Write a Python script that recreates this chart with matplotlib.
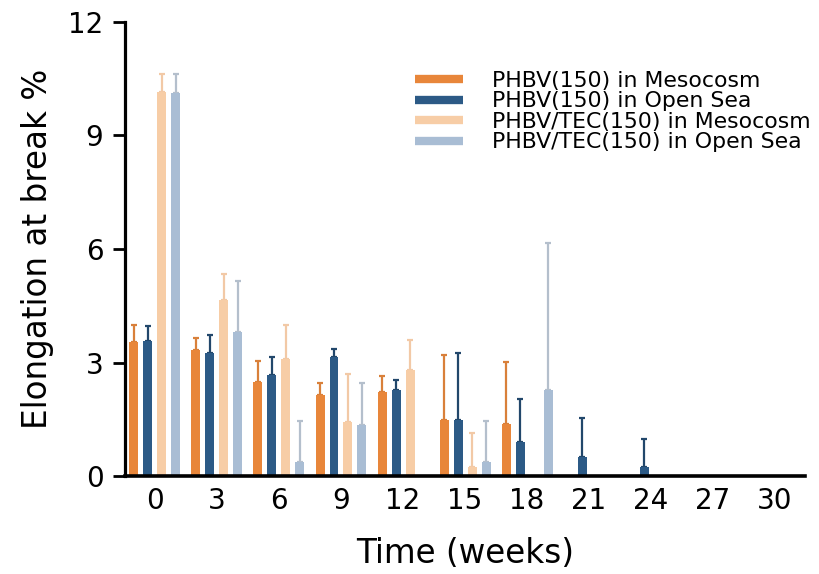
import numpy as np
import matplotlib.pyplot as plt
from matplotlib.lines import Line2D

plt.rcParams['font.family'] = ['DejaVu Sans']

weeks = [0, 3, 6, 9, 12, 15, 18, 21, 24, 27, 30]
nan = np.nan

# mean elongation at break (%) and upper SD for each sample / site
phbv_meso = [3.55, 3.33, 2.49, 2.14, 2.22, 1.48, 1.38, nan, nan, nan, nan]
phbv_meso_err = [0.45, 0.32, 0.55, 0.31, 0.43, 1.72, 1.64, nan, nan, nan, nan]
phbv_sea = [3.57, 3.25, 2.67, 3.15, 2.28, 1.48, 0.90, 0.50, 0.24, nan, nan]
phbv_sea_err = [0.40, 0.48, 0.48, 0.21, 0.26, 1.77, 1.14, 1.03, 0.74, nan, nan]
tec_meso = [10.16, 4.66, 3.09, 1.43, 2.80, 0.25, nan, nan, nan, nan, nan]
tec_meso_err = [0.47, 0.68, 0.90, 1.27, 0.80, 0.88, nan, nan, nan, nan, nan]
tec_sea = [10.13, 3.81, 0.38, 1.35, nan, 0.37, 2.28, nan, nan, nan, nan]
tec_sea_err = [0.50, 1.35, 1.08, 1.11, nan, 1.09, 3.88, nan, nan, nan, nan]

labels = ['PHBV(150) in Mesocosm', 'PHBV(150) in Open Sea',
          'PHBV/TEC(150) in Mesocosm', 'PHBV/TEC(150) in Open Sea']
colors = ['#e8863a', '#2c5a86', '#f7cda6', '#a9bdd4']
err_colors = ['#d9803a', '#22476b', '#f2c9a6', '#b4bfcc']

series = [(phbv_meso, phbv_meso_err), (phbv_sea, phbv_sea_err),
          (tec_meso, tec_meso_err), (tec_sea, tec_sea_err)]

fig = plt.figure(figsize=(8.19, 5.74), dpi=100)
ax = fig.add_axes([0.1526, 0.1707, 0.983 - 0.1526, 0.9617 - 0.1707])

step = 0.677
width = 0.435
x = np.array(weeks, dtype=float)
for i, ((vals, errs), c, ec) in enumerate(zip(series, colors, err_colors)):
    vals = np.array(vals)
    errs = np.array(errs)
    ok = ~np.isnan(vals)
    pos = x[ok] + (i - 1.5) * step
    ax.bar(pos, vals[ok], width=width, color=c, zorder=2)
    e = errs[ok]
    ax.errorbar(pos, vals[ok], yerr=[np.zeros_like(e), e], fmt='none',
                ecolor=ec, elinewidth=1.6, capsize=2.5, capthick=1.6, zorder=1)

ax.set_xlim(-1.45, 31.45)
ax.set_ylim(0, 12)
ax.set_yticks([0, 3, 6, 9, 12])
ax.set_xticks(weeks)
ax.spines['top'].set_visible(False)
ax.spines['right'].set_visible(False)
ax.spines['left'].set_linewidth(2.3)
ax.spines['bottom'].set_linewidth(2.6)
ax.tick_params(axis='y', length=8.5, width=2.0, labelsize=20, pad=7)
ax.tick_params(axis='x', length=0, labelsize=20, pad=8)
ax.set_xlabel('Time (weeks)', fontsize=23.5, labelpad=16)
ax.set_ylabel('Elongation at break %', fontsize=23.5, labelpad=10)

handles = [Line2D([], [], color=c, lw=6, solid_capstyle='butt') for c in colors]
ax.legend(handles, labels, loc='upper left', bbox_to_anchor=(415 / 819, 1 - 71 / 574),
          bbox_transform=fig.transFigure, frameon=False, fontsize=15.8,
          borderpad=0, borderaxespad=0, handlelength=2.2, handletextpad=1.3,
          labelspacing=0.02)

fig.savefig('out.png', dpi=100)
